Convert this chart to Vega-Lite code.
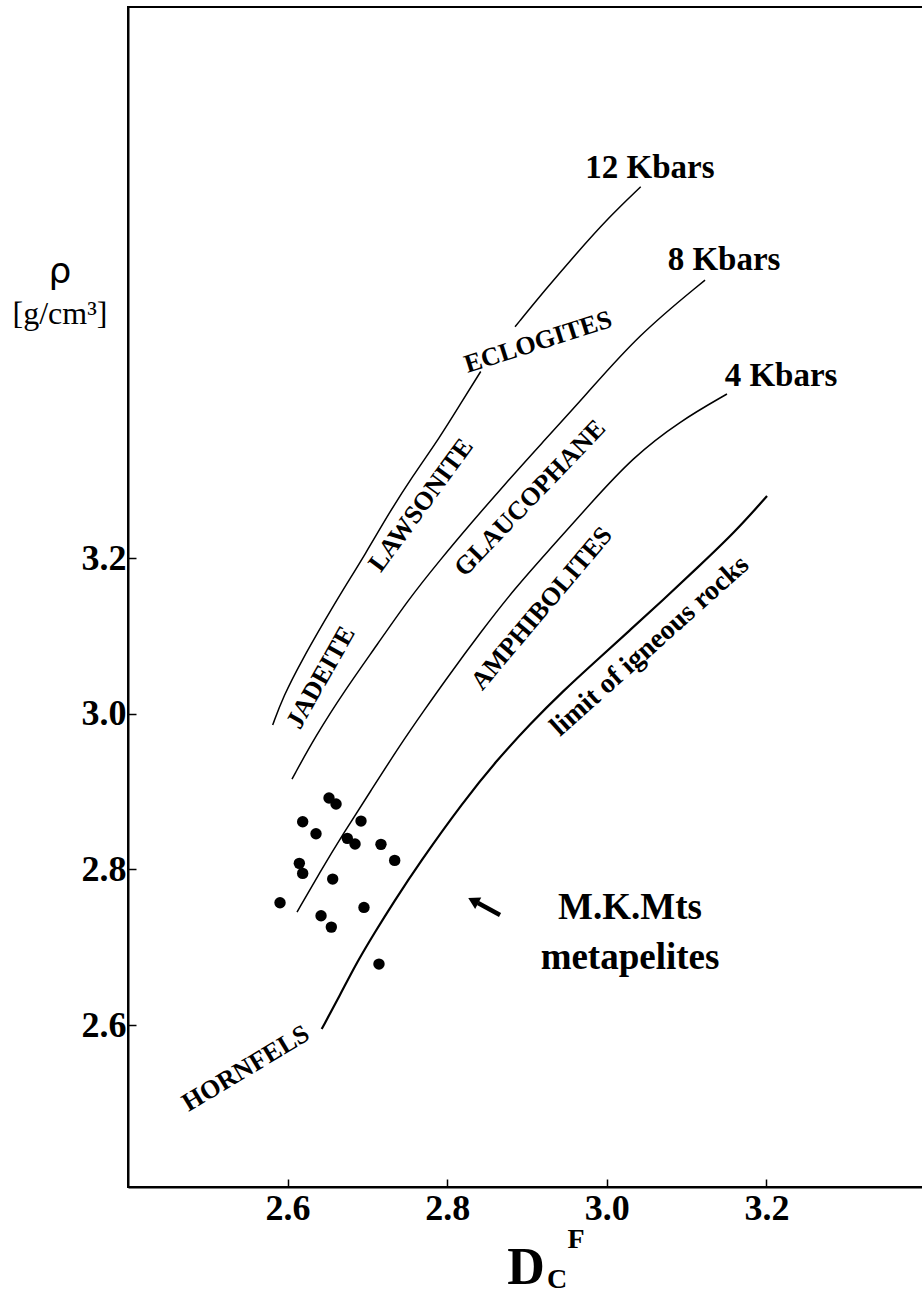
{
  "$schema": "https://vega.github.io/schema/vega-lite/v6.json",
  "width": 798,
  "height": 1180,
  "autosize": {"type": "none"},
  "padding": {"left": 128, "top": 7, "right": 0, "bottom": 119},
  "background": "white",
  "config": {"view": {"stroke": "black", "strokeWidth": 2}, "font": "Liberation Serif"},
  "datasets": {
    "curves": [
      {"curve": "12 Kbars", "seg": "12a", "x": 2.5813, "y": 2.9855},
      {"curve": "12 Kbars", "seg": "12a", "x": 2.5942, "y": 3.0215},
      {"curve": "12 Kbars", "seg": "12a", "x": 2.618, "y": 3.069},
      {"curve": "12 Kbars", "seg": "12a", "x": 2.6469, "y": 3.1204},
      {"curve": "12 Kbars", "seg": "12a", "x": 2.6669, "y": 3.1551},
      {"curve": "12 Kbars", "seg": "12a", "x": 2.6982, "y": 3.2065},
      {"curve": "12 Kbars", "seg": "12a", "x": 2.7271, "y": 3.2579},
      {"curve": "12 Kbars", "seg": "12a", "x": 2.7559, "y": 3.3041},
      {"curve": "12 Kbars", "seg": "12a", "x": 2.791, "y": 3.3555},
      {"curve": "12 Kbars", "seg": "12a", "x": 2.8173, "y": 3.3992},
      {"curve": "12 Kbars", "seg": "12a", "x": 2.842, "y": 3.4397},
      {"curve": "12 Kbars", "seg": "12b", "x": 2.885, "y": 3.4972},
      {"curve": "12 Kbars", "seg": "12b", "x": 2.9226, "y": 3.5444},
      {"curve": "12 Kbars", "seg": "12b", "x": 2.9602, "y": 3.5894},
      {"curve": "12 Kbars", "seg": "12b", "x": 3.0015, "y": 3.6369},
      {"curve": "12 Kbars", "seg": "12b", "x": 3.0425, "y": 3.6771},
      {"curve": "8 Kbars", "seg": "8", "x": 2.6055, "y": 2.9161},
      {"curve": "8 Kbars", "seg": "8", "x": 2.6343, "y": 2.9701},
      {"curve": "8 Kbars", "seg": "8", "x": 2.6719, "y": 3.0304},
      {"curve": "8 Kbars", "seg": "8", "x": 2.712, "y": 3.0883},
      {"curve": "8 Kbars", "seg": "8", "x": 2.7509, "y": 3.1461},
      {"curve": "8 Kbars", "seg": "8", "x": 2.791, "y": 3.1975},
      {"curve": "8 Kbars", "seg": "8", "x": 2.8311, "y": 3.2463},
      {"curve": "8 Kbars", "seg": "8", "x": 2.8724, "y": 3.2951},
      {"curve": "8 Kbars", "seg": "8", "x": 2.9163, "y": 3.3452},
      {"curve": "8 Kbars", "seg": "8", "x": 2.9727, "y": 3.4082},
      {"curve": "8 Kbars", "seg": "8", "x": 3.0391, "y": 3.4866},
      {"curve": "8 Kbars", "seg": "8", "x": 3.1231, "y": 3.5572},
      {"curve": "4 Kbars", "seg": "4", "x": 2.6118, "y": 2.7452},
      {"curve": "4 Kbars", "seg": "4", "x": 2.6406, "y": 2.7966},
      {"curve": "4 Kbars", "seg": "4", "x": 2.6694, "y": 2.8454},
      {"curve": "4 Kbars", "seg": "4", "x": 2.7033, "y": 2.8994},
      {"curve": "4 Kbars", "seg": "4", "x": 2.7409, "y": 2.9598},
      {"curve": "4 Kbars", "seg": "4", "x": 2.7722, "y": 3.006},
      {"curve": "4 Kbars", "seg": "4", "x": 2.7997, "y": 3.0459},
      {"curve": "4 Kbars", "seg": "4", "x": 2.8411, "y": 3.1037},
      {"curve": "4 Kbars", "seg": "4", "x": 2.885, "y": 3.1615},
      {"curve": "4 Kbars", "seg": "4", "x": 2.9288, "y": 3.2116},
      {"curve": "4 Kbars", "seg": "4", "x": 2.9789, "y": 3.2694},
      {"curve": "4 Kbars", "seg": "4", "x": 3.0328, "y": 3.3298},
      {"curve": "4 Kbars", "seg": "4", "x": 3.0917, "y": 3.3761},
      {"curve": "4 Kbars", "seg": "4", "x": 3.1506, "y": 3.4108},
      {"curve": "limit", "seg": "limit", "x": 2.6427, "y": 2.5949},
      {"curve": "limit", "seg": "limit", "x": 2.6657, "y": 2.6386},
      {"curve": "limit", "seg": "limit", "x": 2.687, "y": 2.681},
      {"curve": "limit", "seg": "limit", "x": 2.7095, "y": 2.7195},
      {"curve": "limit", "seg": "limit", "x": 2.7321, "y": 2.7568},
      {"curve": "limit", "seg": "limit", "x": 2.7659, "y": 2.8095},
      {"curve": "limit", "seg": "limit", "x": 2.8198, "y": 2.8865},
      {"curve": "limit", "seg": "limit", "x": 2.8624, "y": 2.9405},
      {"curve": "limit", "seg": "limit", "x": 2.9038, "y": 2.9868},
      {"curve": "limit", "seg": "limit", "x": 2.9451, "y": 3.0292},
      {"curve": "limit", "seg": "limit", "x": 2.9877, "y": 3.069},
      {"curve": "limit", "seg": "limit", "x": 3.0291, "y": 3.1075},
      {"curve": "limit", "seg": "limit", "x": 3.0704, "y": 3.1461},
      {"curve": "limit", "seg": "limit", "x": 3.113, "y": 3.1872},
      {"curve": "limit", "seg": "limit", "x": 3.1607, "y": 3.2335},
      {"curve": "limit", "seg": "limit", "x": 3.2008, "y": 3.2797}
    ],
    "samples": [
      {"x": 2.6519, "y": 2.8917},
      {"x": 2.6607, "y": 2.884},
      {"x": 2.6189, "y": 2.8612},
      {"x": 2.6356, "y": 2.8458},
      {"x": 2.692, "y": 2.8621},
      {"x": 2.6748, "y": 2.8399},
      {"x": 2.6845, "y": 2.8326},
      {"x": 2.717, "y": 2.8322},
      {"x": 2.7342, "y": 2.8116},
      {"x": 2.6147, "y": 2.8078},
      {"x": 2.6189, "y": 2.7949},
      {"x": 2.6565, "y": 2.7876},
      {"x": 2.5905, "y": 2.7572},
      {"x": 2.6419, "y": 2.7405},
      {"x": 2.6548, "y": 2.7259},
      {"x": 2.6957, "y": 2.7512},
      {"x": 2.7145, "y": 2.6784}
    ],
    "labels": [
      {"label": "12 Kbars", "x": 3.0541, "y": 3.7011},
      {"label": "8 Kbars", "x": 3.1469, "y": 3.5829},
      {"label": "4 Kbars", "x": 3.2183, "y": 3.4339},
      {"label": "ECLOGITES", "x": 2.9138, "y": 3.4776},
      {"label": "LAWSONITE", "x": 2.7672, "y": 3.2681},
      {"label": "GLAUCOPHANE", "x": 2.9038, "y": 3.2771},
      {"label": "AMPHIBOLITES", "x": 2.9184, "y": 3.1354},
      {"label": "limit of igneous rocks", "x": 3.0541, "y": 3.087},
      {"label": "JADEITE", "x": 2.6416, "y": 3.0465},
      {"label": "HORNFELS", "x": 2.5476, "y": 2.5444},
      {"label": "M.K.Mts", "x": 3.0291, "y": 2.7503},
      {"label": "metapelites", "x": 3.0291, "y": 2.6861},
      {"label": "ρ", "x": 2.3148, "y": 3.5675},
      {"label": "[g/cm³]", "x": 2.3148, "y": 3.5136},
      {"label": "D", "x": 2.8988, "y": 2.2878},
      {"label": "C", "x": 2.9376, "y": 2.2725},
      {"label": "F", "x": 2.9614, "y": 2.3238}
    ],
    "arrow": [
      {"x": 2.8662, "y": 2.7414, "x2": 2.8386, "y2": 2.7568}
    ],
    "arrowhead": [
      {"x": 2.8326, "y": 2.7598}
    ]
  },
  "layer": [
    {
      "data": {"name": "curves"},
      "transform": [{"filter": "datum.curve !== 'limit'"}],
      "mark": {"type": "line", "color": "black", "strokeWidth": 1.5, "interpolate": "basis"},
      "encoding": {
        "x": {"field": "x", "type": "quantitative",
          "scale": {"domain": [2.4, 3.4], "nice": false, "zero": false},
          "axis": {"values": [2.6, 2.8, 3.0, 3.2], "format": ".1f", "title": null, "grid": false,
            "domainColor": "black", "domainWidth": 2, "tickColor": "black", "tickWidth": 1.5, "tickSize": -8,
            "labelFont": "Liberation Serif", "labelFontWeight": "bold", "labelFontSize": 36, "labelColor": "black", "labelPadding": 12}},
        "y": {"field": "y", "type": "quantitative",
          "scale": {"domain": [2.392, 3.908], "nice": false, "zero": false},
          "axis": {"values": [2.6, 2.8, 3.0, 3.2], "format": ".1f", "title": null, "grid": false,
            "domainColor": "black", "domainWidth": 2, "tickColor": "black", "tickWidth": 1.5, "tickSize": -8,
            "labelFont": "Liberation Serif", "labelFontWeight": "bold", "labelFontSize": 36, "labelColor": "black", "labelPadding": 10}},
        "detail": {"field": "seg"}
      }
    },
    {
      "data": {"name": "curves"},
      "transform": [{"filter": "datum.curve === 'limit'"}],
      "mark": {"type": "line", "color": "black", "strokeWidth": 2.2, "interpolate": "basis"},
      "encoding": {
        "x": {"field": "x", "type": "quantitative"},
        "y": {"field": "y", "type": "quantitative"},
        "detail": {"field": "seg"}
      }
    },
    {
      "data": {"name": "samples"},
      "mark": {"type": "point", "shape": "circle", "filled": true, "color": "black", "opacity": 1, "size": 130},
      "encoding": {
        "x": {"field": "x", "type": "quantitative"},
        "y": {"field": "y", "type": "quantitative"}
      }
    },
    {
      "data": {"name": "arrow"},
      "mark": {"type": "rule", "color": "black", "strokeWidth": 4.5},
      "encoding": {
        "x": {"field": "x", "type": "quantitative"},
        "y": {"field": "y", "type": "quantitative"},
        "x2": {"field": "x2"},
        "y2": {"field": "y2"}
      }
    },
    {
      "data": {"name": "arrowhead"},
      "mark": {"type": "point", "shape": "triangle-up", "filled": true, "color": "black", "opacity": 1, "size": 170, "angle": 298},
      "encoding": {
        "x": {"field": "x", "type": "quantitative"},
        "y": {"field": "y", "type": "quantitative"}
      }
    },
    {
      "data": {"name": "labels"},
      "transform": [{"filter": "indexof(['12 Kbars','8 Kbars','4 Kbars'], datum.label) >= 0"}],
      "mark": {"type": "text", "font": "Liberation Serif", "fontWeight": "bold", "fontSize": 33, "color": "black", "align": "center", "baseline": "middle"},
      "encoding": {"x": {"field": "x", "type": "quantitative"}, "y": {"field": "y", "type": "quantitative"}, "text": {"field": "label"}}
    },
    {
      "data": {"name": "labels"},
      "transform": [{"filter": "indexof(['M.K.Mts','metapelites'], datum.label) >= 0"}],
      "mark": {"type": "text", "font": "Liberation Serif", "fontWeight": "bold", "fontSize": 37, "color": "black", "align": "center", "baseline": "middle"},
      "encoding": {"x": {"field": "x", "type": "quantitative"}, "y": {"field": "y", "type": "quantitative"}, "text": {"field": "label"}}
    },
    {
      "data": {"name": "labels"},
      "transform": [{"filter": "datum.label === 'ECLOGITES'"}],
      "mark": {"type": "text", "font": "Liberation Serif", "fontWeight": "bold", "fontSize": 26, "color": "black", "align": "center", "baseline": "middle", "angle": 342.3},
      "encoding": {"x": {"field": "x", "type": "quantitative"}, "y": {"field": "y", "type": "quantitative"}, "text": {"field": "label"}}
    },
    {
      "data": {"name": "labels"},
      "transform": [{"filter": "datum.label === 'LAWSONITE'"}],
      "mark": {"type": "text", "font": "Liberation Serif", "fontWeight": "bold", "fontSize": 26, "color": "black", "align": "center", "baseline": "middle", "angle": 306.3},
      "encoding": {"x": {"field": "x", "type": "quantitative"}, "y": {"field": "y", "type": "quantitative"}, "text": {"field": "label"}}
    },
    {
      "data": {"name": "labels"},
      "transform": [{"filter": "datum.label === 'GLAUCOPHANE'"}],
      "mark": {"type": "text", "font": "Liberation Serif", "fontWeight": "bold", "fontSize": 26, "color": "black", "align": "center", "baseline": "middle", "angle": 313.8},
      "encoding": {"x": {"field": "x", "type": "quantitative"}, "y": {"field": "y", "type": "quantitative"}, "text": {"field": "label"}}
    },
    {
      "data": {"name": "labels"},
      "transform": [{"filter": "datum.label === 'AMPHIBOLITES'"}],
      "mark": {"type": "text", "font": "Liberation Serif", "fontWeight": "bold", "fontSize": 26, "color": "black", "align": "center", "baseline": "middle", "angle": 310.1},
      "encoding": {"x": {"field": "x", "type": "quantitative"}, "y": {"field": "y", "type": "quantitative"}, "text": {"field": "label"}}
    },
    {
      "data": {"name": "labels"},
      "transform": [{"filter": "datum.label === 'limit of igneous rocks'"}],
      "mark": {"type": "text", "font": "Liberation Serif", "fontWeight": "bold", "fontSize": 28, "color": "black", "align": "center", "baseline": "middle", "angle": 318.2},
      "encoding": {"x": {"field": "x", "type": "quantitative"}, "y": {"field": "y", "type": "quantitative"}, "text": {"field": "label"}}
    },
    {
      "data": {"name": "labels"},
      "transform": [{"filter": "datum.label === 'JADEITE'"}],
      "mark": {"type": "text", "font": "Liberation Serif", "fontWeight": "bold", "fontSize": 26, "color": "black", "align": "center", "baseline": "middle", "angle": 299.6},
      "encoding": {"x": {"field": "x", "type": "quantitative"}, "y": {"field": "y", "type": "quantitative"}, "text": {"field": "label"}}
    },
    {
      "data": {"name": "labels"},
      "transform": [{"filter": "datum.label === 'HORNFELS'"}],
      "mark": {"type": "text", "font": "Liberation Serif", "fontWeight": "bold", "fontSize": 26, "color": "black", "align": "center", "baseline": "middle", "angle": 329},
      "encoding": {"x": {"field": "x", "type": "quantitative"}, "y": {"field": "y", "type": "quantitative"}, "text": {"field": "label"}}
    },
    {
      "data": {"name": "labels"},
      "transform": [{"filter": "datum.label === 'ρ'"}],
      "mark": {"type": "text", "font": "DejaVu Sans", "fontSize": 36, "color": "black", "align": "center", "baseline": "middle"},
      "encoding": {"x": {"field": "x", "type": "quantitative"}, "y": {"field": "y", "type": "quantitative"}, "text": {"field": "label"}}
    },
    {
      "data": {"name": "labels"},
      "transform": [{"filter": "datum.label === '[g/cm³]'"}],
      "mark": {"type": "text", "font": "Liberation Serif", "fontSize": 32, "color": "black", "align": "center", "baseline": "middle"},
      "encoding": {"x": {"field": "x", "type": "quantitative"}, "y": {"field": "y", "type": "quantitative"}, "text": {"field": "label"}}
    },
    {
      "data": {"name": "labels"},
      "transform": [{"filter": "datum.label === 'D'"}],
      "mark": {"type": "text", "font": "Liberation Serif", "fontWeight": "bold", "fontSize": 52, "color": "black", "align": "center", "baseline": "middle"},
      "encoding": {"x": {"field": "x", "type": "quantitative"}, "y": {"field": "y", "type": "quantitative"}, "text": {"field": "label"}}
    },
    {
      "data": {"name": "labels"},
      "transform": [{"filter": "datum.label === 'C' || datum.label === 'F'"}],
      "mark": {"type": "text", "font": "Liberation Serif", "fontWeight": "bold", "fontSize": 28, "color": "black", "align": "center", "baseline": "middle"},
      "encoding": {"x": {"field": "x", "type": "quantitative"}, "y": {"field": "y", "type": "quantitative"}, "text": {"field": "label"}}
    }
  ]
}
